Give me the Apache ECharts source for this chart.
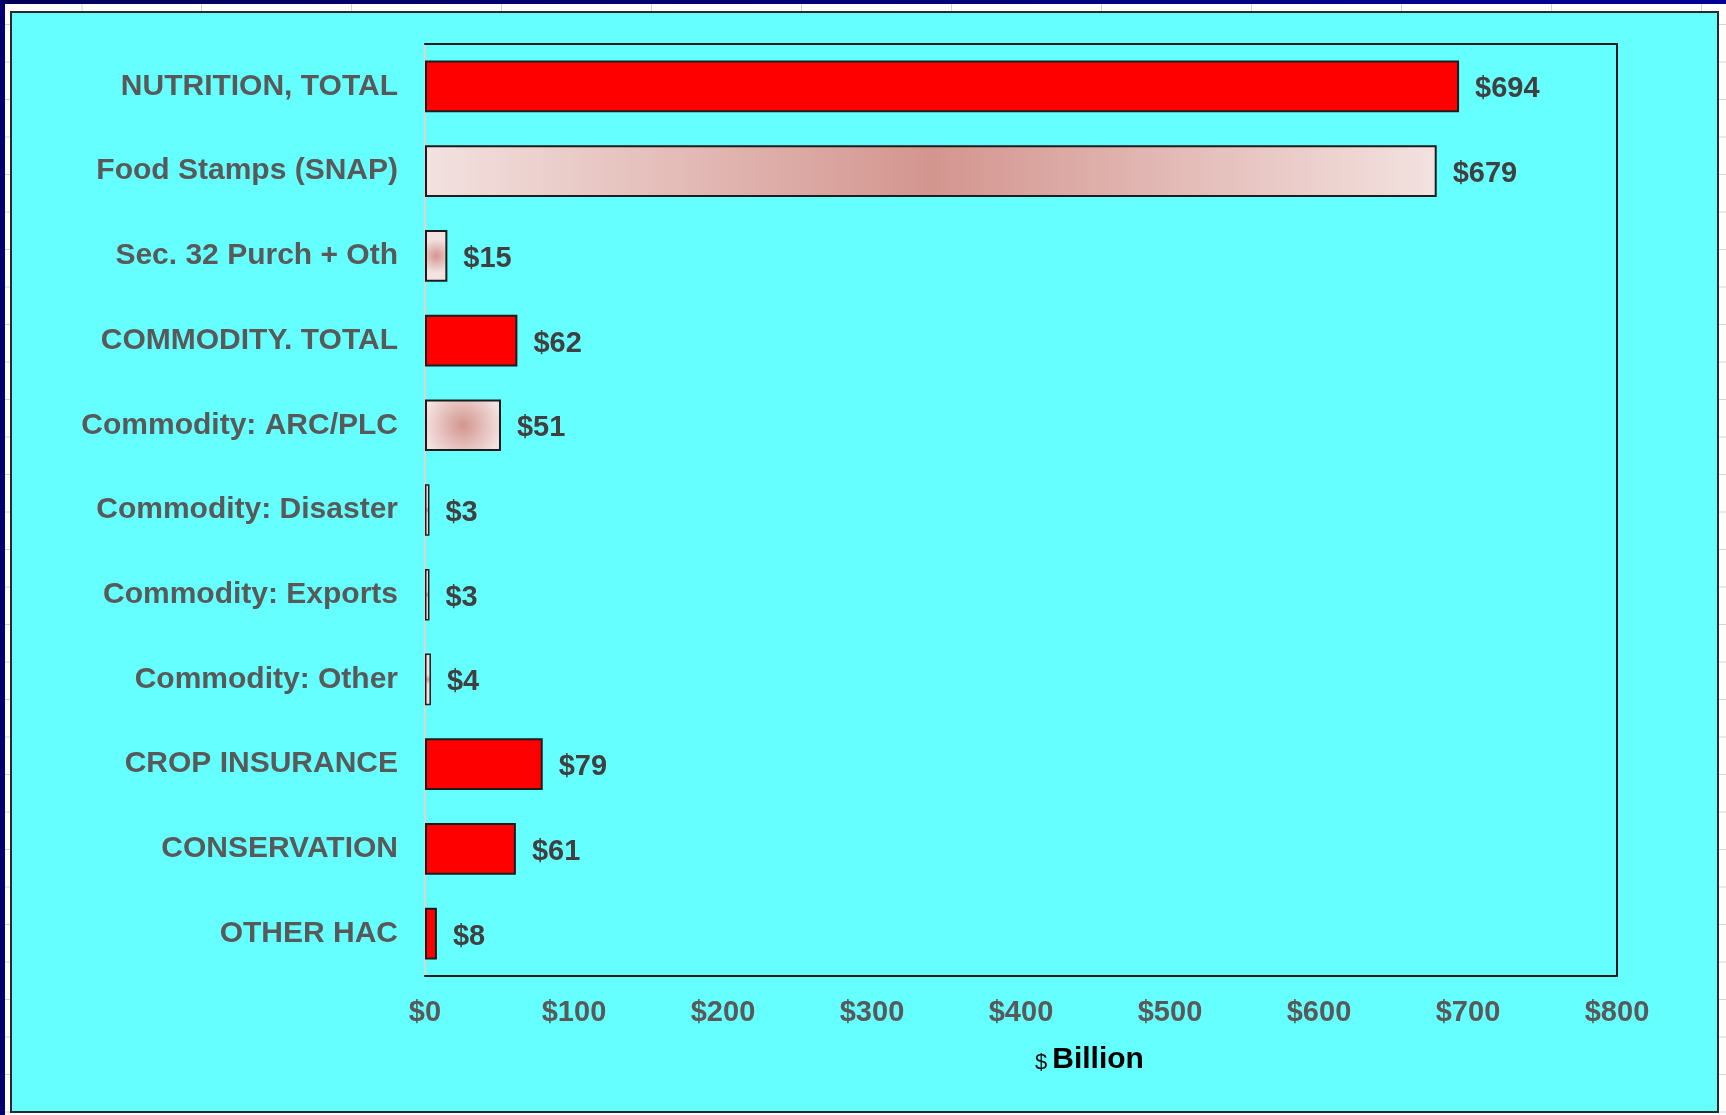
<!DOCTYPE html>
<html>
<head>
<meta charset="utf-8">
<title>Farm Bill Outlays by Program</title>
<script src="https://cdn.jsdelivr.net/npm/echarts@6/dist/echarts.min.js"></script>
<style>
  html, body { margin: 0; padding: 0; background: #ffffff; }
  #chart { width: 1726px; height: 1115px; }
</style>
</head>
<body>
<div id="chart"></div>
<script>
// Program names, top to bottom
const categories = [
  'NUTRITION, TOTAL',
  'Food Stamps (SNAP)',
  'Sec. 32 Purch + Oth',
  'COMMODITY. TOTAL',
  'Commodity: ARC/PLC',
  'Commodity: Disaster',
  'Commodity: Exports',
  'Commodity: Other',
  'CROP INSURANCE',
  'CONSERVATION',
  'OTHER HAC'
];

// Outlays, $ billion
const values = [694, 679, 15, 62, 51, 3, 3, 4, 79, 61, 8];

// 'total' rows are title totals, 'part' rows are their components
const rowKinds = ['total', 'part', 'part', 'total', 'part', 'part', 'part', 'part', 'total', 'total', 'total'];

// x-axis range, $ billion
const axisMin = 0;
const axisMax = 800;
const axisStep = 100;

const FONT = '"Liberation Sans", Arial, sans-serif';
const EDGE = '#f3e2e0';
const CORE = '#d4958f';
const FRAME = '#1a1a1a';

function partFill(v) {
  if (v > 100) {
    return new echarts.graphic.LinearGradient(0, 0, 1, 0, [
      { offset: 0, color: EDGE },
      { offset: 0.5, color: CORE },
      { offset: 1, color: EDGE }
    ]);
  }
  return new echarts.graphic.RadialGradient(0.5, 0.5, 0.75, [
    { offset: 0, color: CORE },
    { offset: 1, color: EDGE }
  ]);
}

const barData = values.map((v, i) => ({
  value: v,
  itemStyle: {
    color: rowKinds[i] === 'total' ? '#ff0000' : partFill(v),
    borderColor: '#1c1c1c',
    borderWidth: rowKinds[i] === 'part' && v < 10 ? 1.5 : 2
  }
}));

// Spreadsheet backdrop: navy window edge and faint cell lines
const backdrop = [];
backdrop.push({
  type: 'rect', shape: { x: 0, y: 0, width: 1726, height: 4 },
  style: { fill: new echarts.graphic.LinearGradient(0, 0, 1, 0, [
    { offset: 0, color: '#00005a' }, { offset: 1, color: '#000098' }
  ]) }
});
backdrop.push({
  type: 'rect', shape: { x: 0, y: 0, width: 5, height: 1115 },
  style: { fill: '#000070' }
});
const colLines = [82];
for (let x = 201.5; x < 1726; x += 150) colLines.push(x);
colLines.forEach(x => backdrop.push({
  type: 'line', shape: { x1: x, y1: 4, x2: x, y2: 12 },
  style: { stroke: '#d4d4d4', lineWidth: 1 }
}));
for (let y = 24.5; y < 1115; y += 37.5) {
  backdrop.push({ type: 'line', shape: { x1: 5, y1: y, x2: 11, y2: y }, style: { stroke: '#d4d4d4', lineWidth: 1 } });
  backdrop.push({ type: 'line', shape: { x1: 1718, y1: y, x2: 1726, y2: y }, style: { stroke: '#d4d4d4', lineWidth: 1 } });
}
backdrop.push({
  type: 'rect', shape: { x: 11, y: 12, width: 1707, height: 1100 },
  style: { fill: '#66ffff', stroke: '#2a2a2a', lineWidth: 2 }
});

const frameAxis = { show: true, onZero: false, lineStyle: { color: FRAME, width: 2 } };

const chart = echarts.init(document.getElementById('chart'), null, { renderer: 'canvas' });
chart.setOption({
  animation: false,
  backgroundColor: '#ffffff',
  graphic: { elements: [{ type: 'group', z: -10, children: backdrop }] },
  title: {
    text: '{d|$} {b|Billion}',
    left: 1035,
    top: 1045,
    padding: 0,
    textStyle: {
      rich: {
        d: { fontFamily: FONT, fontSize: 22, fontWeight: 'normal', color: '#111111', padding: [5, 0, 0, 0] },
        b: { fontFamily: FONT, fontSize: 30, fontWeight: 'bold', color: '#000000' }
      }
    }
  },
  grid: {
    left: 425,
    right: 109,
    top: 44,
    bottom: 139,
    outerBoundsMode: 'none',
    containLabel: false
  },
  xAxis: [{
    type: 'value',
    min: axisMin,
    max: axisMax,
    interval: axisStep,
    axisLine: frameAxis,
    axisTick: { show: false },
    splitLine: { show: false },
    axisLabel: {
      formatter: v => '$' + v,
      fontFamily: FONT,
      fontSize: 29,
      fontWeight: 'bold',
      color: '#595959',
      margin: 22
    }
  }, {
    // top edge of the plot frame
    type: 'value',
    position: 'top',
    min: axisMin,
    max: axisMax,
    interval: axisStep,
    axisLine: frameAxis,
    axisTick: { show: false },
    axisLabel: { show: false },
    splitLine: { show: false }
  }],
  yAxis: [{
    type: 'category',
    data: categories,
    inverse: true,
    axisLine: { show: true, onZero: false, lineStyle: { color: '#d6d6d6', width: 2 } },
    axisTick: { show: false },
    splitLine: { show: false },
    axisLabel: {
      fontFamily: FONT,
      fontSize: 30,
      fontWeight: 'bold',
      color: '#595959',
      margin: 27
    }
  }, {
    // right edge of the plot frame
    type: 'category',
    data: categories,
    inverse: true,
    position: 'right',
    axisLine: frameAxis,
    axisTick: { show: false },
    axisLabel: { show: false },
    splitLine: { show: false }
  }],
  series: [{
    type: 'bar',
    xAxisIndex: 0,
    yAxisIndex: 0,
    data: barData,
    barCategoryGap: '39%',
    label: {
      show: true,
      position: 'right',
      distance: 16,
      offset: [0, 3],
      formatter: p => '$' + p.value,
      fontFamily: FONT,
      fontSize: 29,
      fontWeight: 'bold',
      color: '#404040'
    }
  }]
});
</script>
</body>
</html>
